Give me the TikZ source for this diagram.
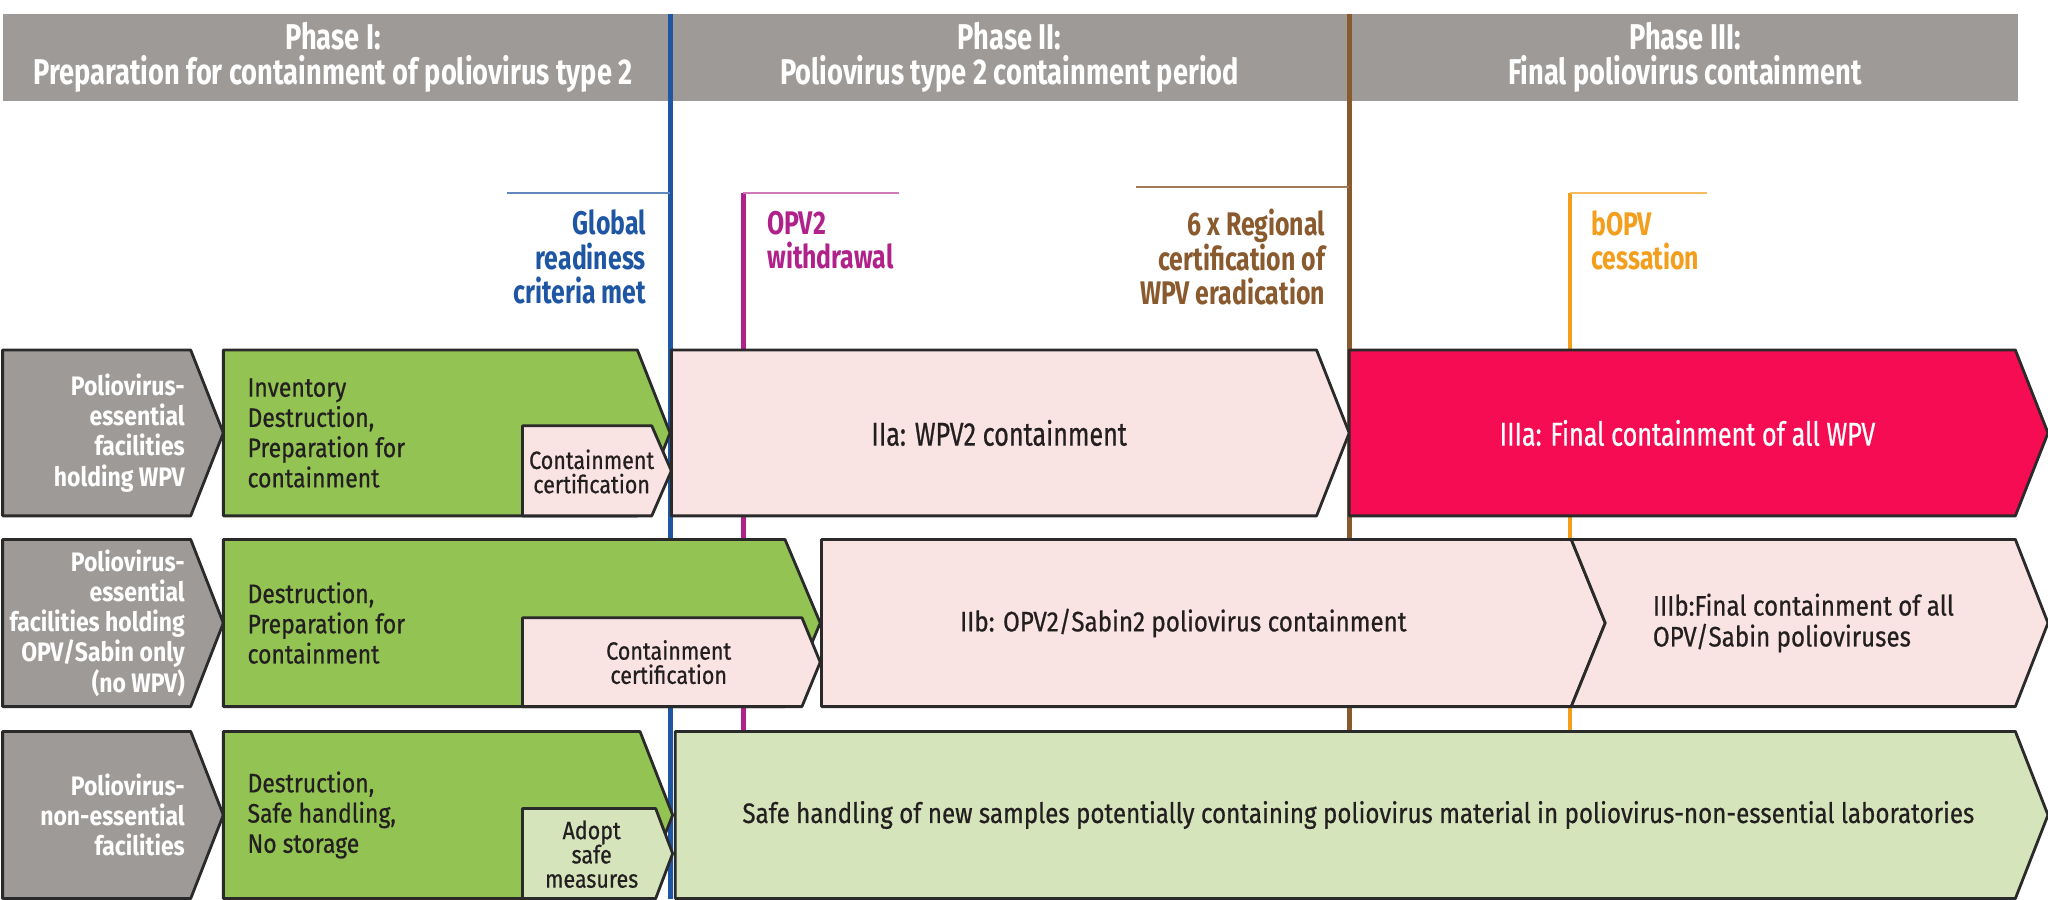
\documentclass[tikz,border=0pt]{standalone}
\usepackage{fontspec}
\setmainfont{Fira Sans}[FakeStretch=0.86, UprightFeatures={FakeBold=0.6}]
\newfontfamily\condfont{Fira Sans}[FakeStretch=0.76, UprightFeatures={FakeBold=0.6}]
\usepackage{tikz}

\definecolor{headgray}{HTML}{9E9A97}
\definecolor{boxgreen}{HTML}{92C353}
\definecolor{palepink}{HTML}{F9E3E3}
\definecolor{palegreen}{HTML}{D5E4BA}
\definecolor{wpvred}{HTML}{F50C52}
\definecolor{gblue}{HTML}{1F56A4}
\definecolor{opvmag}{HTML}{B1218A}
\definecolor{regbrown}{HTML}{8A5A2F}
\definecolor{bopvorange}{HTML}{F49E1E}
\definecolor{inkdark}{HTML}{231F20}
\definecolor{edgegray}{HTML}{2A2A2A}

\begin{document}
\begin{tikzpicture}[x=0.013061cm, y=-0.013061cm, line join=round,
  chevbox/.style={draw=edgegray, line width=0.8pt},
  phasehead/.style={text=white, font=\condfont\bfseries\fontsize{10.2}{10.2}\selectfont, align=center, inner sep=0},
  milestone/.style={font=\condfont\bfseries\fontsize{9.3}{9.8}\selectfont, inner sep=0},
  rowlabel/.style={text=white, font=\bfseries\fontsize{7.6}{8.6}\selectfont, align=right, anchor=east, inner sep=0},
  task/.style={text=inkdark, font=\fontsize{7.6}{8.6}\selectfont, align=left, anchor=west, inner sep=0},
  certtext/.style={text=inkdark, font=\fontsize{7.1}{6.9}\selectfont, align=center, inner sep=0},
  period/.style={text=inkdark, font=\condfont\fontsize{9.4}{9}\selectfont, inner sep=0},
  subperiod/.style={text=inkdark, font=\fontsize{8}{8.8}\selectfont, inner sep=0}]

\useasboundingbox (0,0) rectangle (1568,689);

% header band
\fill[headgray] (2,11) rectangle (1545,77);

% milestone lines
\draw[gblue, line width=1.4pt] (513,11) -- (513,688);
\draw[regbrown, line width=1.4pt] (1033,11) -- (1033,560);
\draw[opvmag, line width=1.4pt] (569,148) -- (569,560);
\draw[bopvorange, line width=1.4pt] (1202,148) -- (1202,560);

\draw[gblue!70!white, line width=0.6pt] (388,148) -- (513,148);
\draw[opvmag!60!white, line width=0.6pt] (569,148) -- (688,148);
\draw[regbrown!80!white, line width=0.6pt] (870,143) -- (1033,143);
\draw[bopvorange!70!white, line width=0.6pt] (1202,148) -- (1307,148);

\node (phase1) at (255,44) [phasehead] {Phase I:\\Preparation for containment of poliovirus type 2};
\node (phase2) at (773,44) [phasehead] {Phase II:\\Poliovirus type 2 containment period};
\node (phase3) at (1290,44) [phasehead] {Phase III:\\Final poliovirus containment};

\node (global) at (495,197) [milestone, gblue, anchor=east, align=right] {Global\\readiness\\criteria met};
\node (opv2) at (587,184) [milestone, opvmag, anchor=west, align=left] {OPV2\\withdrawal};
\node (regional) at (1015,197) [milestone, regbrown, anchor=east, align=right] {6 x Regional\\certification of\\WPV eradication};
\node (bopv) at (1218,184) [milestone, bopvorange, anchor=west, align=left] {bOPV\\cessation};

% row 1: facilities holding WPV
\draw[chevbox, fill=headgray] (2,268) -- (146,268) -- (171,331.5) -- (146,395) -- (2,395) -- cycle;
\draw[chevbox, fill=boxgreen] (171,268) -- (488,268) -- (513,331.5) -- (488,395) -- (171,395) -- cycle;
\draw[chevbox, fill=palepink] (400,326) -- (499,326) -- (514,360.5) -- (499,395) -- (400,395) -- cycle;
\draw[chevbox, fill=palepink] (514,268) -- (1008,268) -- (1033,331.5) -- (1008,395) -- (514,395) -- cycle;
\draw[chevbox, fill=wpvred] (1033,268) -- (1543,268) -- (1568,331.5) -- (1543,395) -- (1033,395) -- cycle;

\node (wpvfac) at (142,331.5) [rowlabel] {Poliovirus-\\essential\\facilities\\holding WPV};
\node (wpvprep) at (189,331.5) [task] {Inventory\\Destruction,\\Preparation for\\containment};
\node (wpvcert) at (453,361) [certtext] {Containment\\certification};
\node (iia) at (765,331.5) [period] {IIa: WPV2 containment};
\node (iiia) at (1292,331.5) [period, text=white] {IIIa: Final containment of all WPV};

% row 2: facilities holding OPV/Sabin only
\draw[chevbox, fill=headgray] (2,413) -- (146,413) -- (171,477) -- (146,541) -- (2,541) -- cycle;
\draw[chevbox, fill=boxgreen] (171,413) -- (601,413) -- (628,477) -- (601,541) -- (171,541) -- cycle;
\draw[chevbox, fill=palepink] (400,473) -- (614,473) -- (628,507) -- (614,541) -- (400,541) -- cycle;
\draw[chevbox, fill=palepink] (629,413) -- (1203,413) -- (1229,477) -- (1203,541) -- (629,541) -- cycle;
\draw[chevbox, fill=palepink] (1203,413) -- (1543,413) -- (1568,477) -- (1543,541) -- (1203,541) -- (1229,477) -- cycle;

\node (sabinfac) at (142,477) [rowlabel] {Poliovirus-\\essential\\facilities holding\\OPV/Sabin only\\(no WPV)};
\node (sabinprep) at (189,477) [task] {Destruction,\\Preparation for\\containment};
\node (sabincert) at (512,507) [certtext] {Containment\\certification};
\node (iib) at (906,477) [subperiod] {IIb: OPV2/Sabin2 poliovirus containment};
\node (iiib) at (1265,477) [subperiod, anchor=west, align=left] {IIIb:Final containment of all\\OPV/Sabin polioviruses};

% row 3: non-essential facilities
\draw[chevbox, fill=headgray] (2,560) -- (146,560) -- (171,624) -- (146,688) -- (2,688) -- cycle;
\draw[chevbox, fill=boxgreen] (171,560) -- (490,560) -- (515,624) -- (490,688) -- (171,688) -- cycle;
\draw[chevbox, fill=palegreen] (400,619) -- (502,619) -- (515,653.5) -- (502,688) -- (400,688) -- cycle;
\draw[chevbox, fill=palegreen] (517,560) -- (1543,560) -- (1568,624) -- (1543,688) -- (517,688) -- cycle;

\node (nonfac) at (142,624) [rowlabel] {Poliovirus-\\non-essential\\facilities};
\node (nonprep) at (189,624) [task] {Destruction,\\Safe handling,\\No storage};
\node (adopt) at (453,654) [certtext] {Adopt\\safe\\measures};
\node (safe) at (1040,624) [subperiod] {Safe handling of new samples potentially containing poliovirus material in poliovirus-non-essential laboratories};

\end{tikzpicture}
\end{document}
